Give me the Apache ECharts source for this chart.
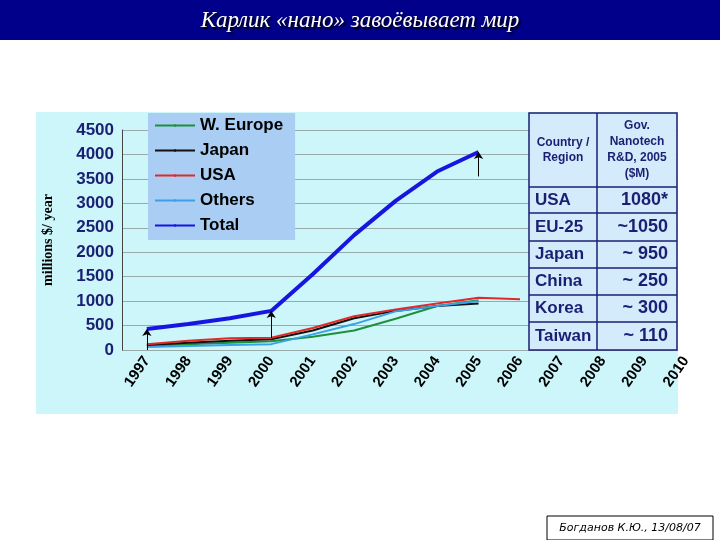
<!DOCTYPE html>
<html>
<head>
<meta charset="utf-8">
<script src="https://cdn.jsdelivr.net/npm/echarts@6/dist/echarts.min.js"></script>
<style>body{margin:0;background:#fff}#chart{width:720px;height:540px}</style>
</head>
<body>
<div id="chart"></div>
<script>
// years on the x axis
const years = [1997, 1998, 1999, 2000, 2001, 2002, 2003, 2004, 2005, 2006, 2007, 2008, 2009, 2010]
const wEurope = [80, 120, 150, 180, 270, 400, 640, 900, 1020]
const japan = [100, 150, 190, 220, 400, 650, 800, 900, 950]
const usa = [120, 190, 240, 250, 450, 690, 830, 950, 1070, 1040]
const others = [60, 80, 100, 120, 320, 530, 790, 900, 1000]
const total = [430, 530, 650, 800, 1550, 2350, 3050, 3650, 4050]
const yTicks = [0, 500, 1000, 1500, 2000, 2500, 3000, 3500, 4000, 4500]
// government R&D table
const regions = ['USA', 'EU-25', 'Japan', 'China', 'Korea', 'Taiwan']
const govRD = ['1080*', '~1050', '~ 950', '~ 250', '~ 300', '~ 110']

const pairs = arr => arr.map((v, i) => [years[i], v])
const navy = '#1b1f73'

const chart = echarts.init(document.getElementById('chart'))

// table graphics, drawn on a higher layer than the grid lines
const upper = {zlevel: 2, z: 100}
const tbl = []
const rows = [113, 187, 213, 241, 268, 295, 322, 350]
tbl.push({type: 'rect', ...upper, shape: {x: 678, y: 100, width: 42, height: 252}, style: {fill: '#fff'}})
tbl.push({type: 'rect', ...upper, shape: {x: 529, y: 113, width: 148, height: 237}, style: {fill: '#d3ebfb', stroke: navy, lineWidth: 1.5}})
for (let r = 1; r < rows.length - 1; r++) {
    tbl.push({type: 'line', ...upper, shape: {x1: 529, y1: rows[r], x2: 677, y2: rows[r]}, style: {stroke: navy, lineWidth: 1.5}})
}
tbl.push({type: 'line', ...upper, shape: {x1: 597, y1: 113, x2: 597, y2: 350}, style: {stroke: navy, lineWidth: 1.5}})
tbl.push({type: 'text', ...upper, x: 563, y: 150, style: {text: 'Country /\nRegion', fill: navy, font: 'bold 12px "Liberation Sans Narrow", Arial', align: 'center', verticalAlign: 'middle', lineHeight: 15}})
tbl.push({type: 'text', ...upper, x: 637, y: 150, style: {text: 'Gov.\nNanotech\nR&D, 2005\n($M)', fill: navy, font: 'bold 12px "Liberation Sans Narrow", Arial', align: 'center', verticalAlign: 'middle', lineHeight: 16}})
regions.forEach((name, i) => {
    const yc = (rows[i + 1] + rows[i + 2]) / 2
    tbl.push({type: 'text', ...upper, x: 535, y: yc, style: {text: name, fill: navy, font: 'bold 17px "Liberation Sans Narrow", Arial', verticalAlign: 'middle'}})
    tbl.push({type: 'text', ...upper, x: 668, y: yc, style: {text: govRD[i], fill: navy, font: 'bold 18px Arial', align: 'right', verticalAlign: 'middle'}})
})

chart.setOption({
    animation: false,
    graphic: [
        {type: 'rect', z: -10, shape: {x: 0, y: 0, width: 720, height: 40}, style: {fill: '#00008b'}},
        {type: 'text', x: 360, y: 21, style: {text: 'Карлик «нано» завоёвывает мир', fill: '#fff', font: 'italic 23px "Liberation Serif", serif', align: 'center', verticalAlign: 'middle', textShadowColor: '#000', textShadowOffsetX: 2, textShadowOffsetY: 2, textShadowBlur: 2}},
        {type: 'rect', z: -10, shape: {x: 36, y: 112, width: 642, height: 302}, style: {fill: '#ccf6fa'}},
        {type: 'text', x: 48, y: 240, rotation: Math.PI / 2, style: {text: 'millions $/ year', fill: '#000', font: 'bold 14px "Liberation Serif", serif', align: 'center', verticalAlign: 'middle'}},
        {type: 'rect', z: 1, shape: {x: 547, y: 516, width: 166, height: 24}, style: {fill: '#fff', stroke: '#000', lineWidth: 1}},
        {type: 'text', z: 2, x: 630, y: 528, style: {text: 'Богданов К.Ю., 13/08/07', fill: '#000', font: 'italic 11px "DejaVu Sans", sans-serif', align: 'center', verticalAlign: 'middle'}},
        ...tbl
    ],
    legend: {
        orient: 'vertical', left: 148, top: 113, width: 145,
        backgroundColor: '#a9cdf3', padding: [4, 12, 6, 6], itemGap: 8,
        itemWidth: 40, itemHeight: 3,
        textStyle: {fontSize: 17, fontWeight: 'bold', color: '#000', fontFamily: 'Arial'},
        data: ['W. Europe', 'Japan', 'USA', 'Others', 'Total']
    },
    grid: {left: 122, right: 30, top: 130, bottom: 190},
    xAxis: {
        type: 'value', min: 1996.4, max: 2010.1,
        splitLine: {show: false},
        axisLine: {show: false}, axisTick: {show: false},
        axisLabel: {
            customValues: years, rotate: 55, margin: 8,
            color: '#000', fontSize: 15, fontWeight: 'bold', fontFamily: 'Arial',
            formatter: v => String(v)
        }
    },
    yAxis: {
        type: 'value', min: 0, max: 4500, interval: 500,
        axisLine: {show: true, lineStyle: {color: '#444'}},
        axisTick: {show: false},
        splitLine: {lineStyle: {color: '#9aa'}},
        axisLabel: {color: navy, fontSize: 17, fontWeight: 'bold', fontFamily: 'Arial', margin: 8,
            customValues: yTicks, formatter: v => String(v)}
    },
    series: [
        {name: 'W. Europe', type: 'line', data: pairs(wEurope), symbol: 'none', color: '#1e8f3a', lineStyle: {width: 2}},
        {name: 'Japan', type: 'line', data: pairs(japan), symbol: 'none', color: '#111', lineStyle: {width: 2}},
        {name: 'USA', type: 'line', data: pairs(usa), symbol: 'none', color: '#e02a2a', lineStyle: {width: 2}},
        {name: 'Others', type: 'line', data: pairs(others), symbol: 'none', color: '#3aa0e8', lineStyle: {width: 2}},
        {name: 'Total', type: 'line', data: pairs(total), symbol: 'none', color: '#1616e0', lineStyle: {width: 4},
            markLine: {
                silent: true, symbol: ['none', 'arrow'], symbolSize: 7,
                lineStyle: {color: '#000', width: 1, type: 'solid'}, label: {show: false},
                data: [
                    [{coord: [1997, 0]}, {coord: [1997, 430]}],
                    [{coord: [2000, 250]}, {coord: [2000, 800]}],
                    [{coord: [2005, 3550]}, {coord: [2005, 4050]}]
                ]
            }}
    ]
})
</script>
</body>
</html>
